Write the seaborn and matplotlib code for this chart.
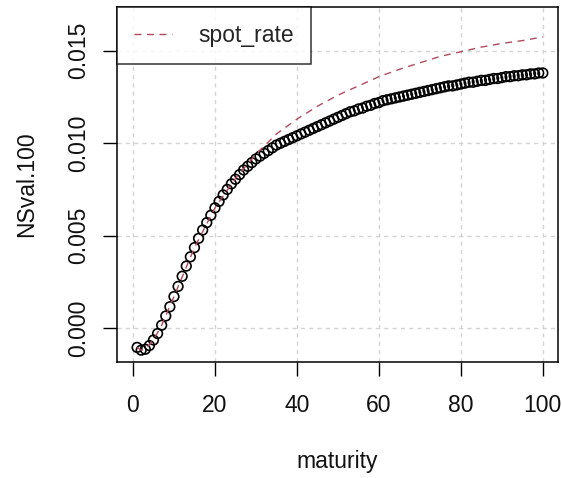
import matplotlib
matplotlib.use("Agg")
import matplotlib.pyplot as plt
import seaborn as sns
import numpy as np
import pandas as pd

# ---- data ----
maturity = list(range(1, 101))
nsval_1e3 = [
    -1.05, -1.20, -1.15, -0.95, -0.65, -0.30, 0.15, 0.65, 1.15, 1.70,
    2.25, 2.80, 3.35, 3.85, 4.35, 4.85, 5.30, 5.70, 6.10, 6.50,
    6.85, 7.20, 7.50, 7.80, 8.05, 8.30, 8.55, 8.75, 8.95, 9.15,
    9.30, 9.45, 9.60, 9.75, 9.90, 10.00, 10.10, 10.20, 10.30, 10.40,
    10.50, 10.60, 10.70, 10.80, 10.90, 11.00, 11.10, 11.20, 11.30, 11.40,
    11.50, 11.60, 11.70, 11.75, 11.85, 11.90, 12.00, 12.05, 12.15, 12.20,
    12.30, 12.35, 12.40, 12.45, 12.50, 12.55, 12.60, 12.65, 12.70, 12.75,
    12.80, 12.85, 12.90, 12.95, 13.00, 13.05, 13.10, 13.10, 13.15, 13.20,
    13.25, 13.30, 13.30, 13.35, 13.40, 13.40, 13.45, 13.50, 13.50, 13.55,
    13.60, 13.60, 13.65, 13.65, 13.70, 13.70, 13.75, 13.75, 13.80, 13.80,
]
spot_maturity = [1, 2, 3, 5, 7, 10, 15, 20, 25, 30, 35, 40, 45, 50, 55,
                 60, 65, 70, 75, 80, 85, 90, 95, 100]
spot_rate_1e3 = [-1.05, -1.20, -1.15, -0.65, 0.15, 1.70, 4.35, 6.50, 8.10,
                 9.40, 10.50, 11.30, 12.00, 12.60, 13.10, 13.60, 14.00,
                 14.35, 14.70, 14.95, 15.20, 15.40, 15.55, 15.75]
x_ticks = [0, 20, 40, 60, 80, 100]
y_ticks = [0.000, 0.005, 0.010, 0.015]
y_tick_labels = ["0.000", "0.005", "0.010", "0.015"]

pts = pd.DataFrame({"maturity": maturity,
                    "NSval.100": np.array(nsval_1e3) / 1000.0})
spot = pd.DataFrame({"maturity": spot_maturity,
                     "spot_rate": np.array(spot_rate_1e3) / 1000.0})

sns.set_theme(style="white")
plt.rcParams["font.family"] = ["Liberation Sans", "DejaVu Sans"]

FS = 16.5
fig = plt.figure(figsize=(5.62, 4.78), dpi=100)
ax = fig.add_axes([117 / 562, 1 - 362 / 478, (558 - 117) / 562, (362 - 7) / 478])

# grid (R: lightgray dotted)
for xv in x_ticks:
    ax.axvline(xv, color="#D3D3D3", lw=1.0, ls=(0, (3, 3)), zorder=0)
for yv in y_ticks:
    ax.axhline(yv, color="#D3D3D3", lw=1.0, ls=(0, (3, 3)), zorder=0)

sns.scatterplot(data=pts, x="maturity", y="NSval.100", ax=ax,
                marker="o", s=48, facecolor="none", edgecolor="black",
                linewidth=1.2, zorder=3, legend=False)
sns.lineplot(data=spot, x="maturity", y="spot_rate", ax=ax,
             color="#B04A5E", lw=1.0, dashes=False, zorder=4,
             label="spot_rate")
ax.lines[-1].set_linestyle((0, (5, 4)))

ax.set_xlim(-3.9, 103.7)
ax.set_ylim(-0.00184, 0.01737)
ax.set_xticks(x_ticks)
ax.set_xticklabels([str(v) for v in x_ticks])
ax.set_yticks(y_ticks)
ax.set_yticklabels(y_tick_labels, rotation=90, va="center")

for sp in ax.spines.values():
    sp.set_color("black")
    sp.set_linewidth(1.1)
    sp.set_visible(True)

ax.tick_params(axis="both", direction="out", length=10, width=1.0,
               color="black", labelsize=FS, labelcolor="#111111",
               bottom=True, left=True)
ax.tick_params(axis="x", pad=13)
ax.tick_params(axis="y", pad=9)

ax.set_xlabel("maturity", fontsize=FS, color="#111111", labelpad=24)
ax.set_ylabel("NSval.100", fontsize=FS, color="#111111", labelpad=21)

leg = ax.legend(loc="upper left", frameon=True, fontsize=FS,
                borderaxespad=0, handlelength=1.65, handletextpad=1.15,
                borderpad=0.75, fancybox=False, edgecolor="black")
leg.get_frame().set_linewidth(1.1)

fig.savefig("out.png", dpi=100)
